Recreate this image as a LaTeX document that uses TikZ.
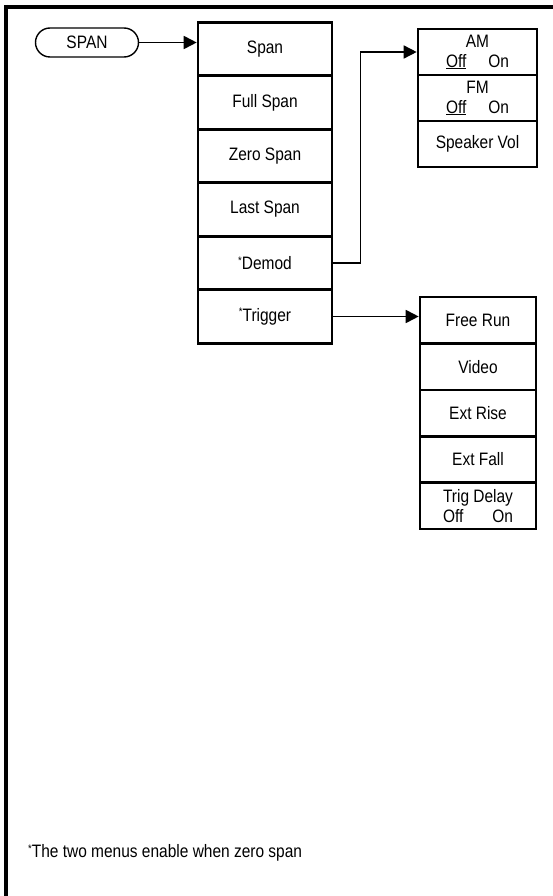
\documentclass[tikz,border=0pt]{standalone}
\usepackage{fontspec}
\setmainfont{Liberation Sans}[FakeStretch=0.86]
\usetikzlibrary{arrows.meta,shapes.misc}
\newcommand{\fnstar}{\raisebox{0.3em}{\fontsize{11}{11}\selectfont *}}
\begin{document}
\begin{tikzpicture}[x=1pt,y=-1pt,
  every node/.style={font=\fontsize{18}{20}\selectfont},
  menubox/.style={draw,line width=2.6pt,minimum width=134pt,minimum height=53.5pt,inner sep=0pt,align=center},
  subbox/.style={draw,line width=2.6pt,minimum width=119pt,minimum height=46pt,inner sep=0pt,align=center},
  trigbox/.style={draw,line width=2.6pt,minimum width=116pt,minimum height=46.4pt,inner sep=0pt,align=center},
  keybtn/.style={draw,line width=1.4pt,rounded rectangle,minimum width=103pt,minimum height=29pt,inner sep=0pt},
  arr/.style={line width=1.8pt,-{Triangle[length=13pt,width=13pt]}},
  frameline/.style={line width=4pt}
]
\useasboundingbox (0,0) rectangle (553,896);
% frame
\draw[frameline] (4,7) -- (553,7);
\draw[frameline] (6,5) -- (6,896);
% key
\node[keybtn] (spanbtn) at (87,42.5) {SPAN};
% left column
\node[menubox] (span) at (265,49) {Span};
\node[menubox] (full) at (265,102.5) {Full Span};
\node[menubox] (zero) at (265,156) {Zero Span};
\node[menubox] (last) at (265,209.5) {Last Span};
\node[menubox] (demod) at (265,263) {\fnstar Demod};
\node[menubox] (trigger) at (265,316.5) {\fnstar Trigger};
% demod submenu
\node[subbox] (am) at (477.5,52) {AM\\\underline{Off}\hspace{22pt}On};
\node[subbox] (fm) at (477.5,98) {FM\\\underline{Off}\hspace{22pt}On};
\node[subbox] (spk) at (477.5,144) {Speaker Vol};
% trigger submenu
\node[trigbox] (free) at (478,320.2) {Free Run};
\node[trigbox] (video) at (478,366.6) {Video};
\node[trigbox] (rise) at (478,413) {Ext Rise};
\node[trigbox] (fall) at (478,459.4) {Ext Fall};
\node[trigbox] (tdelay) at (478,505.8) {Trig Delay\\Off\hspace{29pt}On};
% connectors
\draw[arr] (spanbtn.east) -- (spanbtn.east -| span.west);
\draw[arr,line width=1.5pt] (demod.east) -- ([xshift=27pt]demod.east) |- (am.west);
\draw[arr] (trigger.east) -- (trigger.east -| free.west);
% footnote
\node[anchor=west,inner sep=0pt] (note) at (28,853) {\fnstar The two menus enable when zero span};
\end{tikzpicture}
\end{document}
